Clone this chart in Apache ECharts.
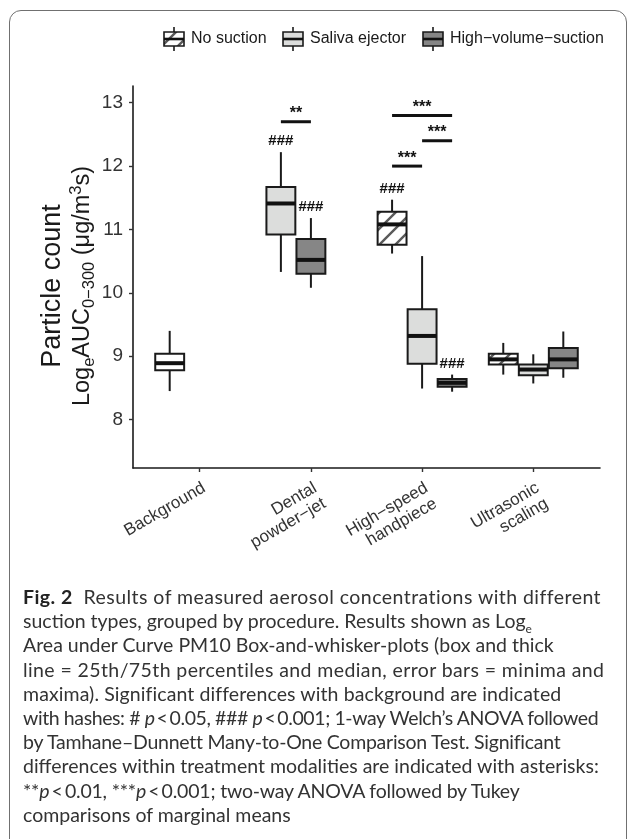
<!DOCTYPE html>
<html>
<head>
<meta charset="utf-8">
<script src="https://cdn.jsdelivr.net/npm/echarts@6/dist/echarts.min.js"></script>
<style>
  body { margin: 0; background: #fff; }
  #main { position: absolute; left: 0; top: 0; width: 630px; height: 575px; }
  .frame { position: absolute; left: 9px; top: 10px; width: 616px; height: 850px;
           border: 1.5px solid #707070; border-radius: 12px; pointer-events: none; }
  .caption { position: absolute; left: 23px; top: 585px; font-family: Lato, "Open Sans", sans-serif;
             font-size: 19.5px; color: #333; }
  .caption div { height: 24.2px; line-height: 24.2px; white-space: nowrap; }
  .caption b { color: #222; }
</style>
</head>
<body>
<div id="main"></div>
<div class="frame"></div>
<div class="caption">
  <div style="letter-spacing:0.45px"><b>Fig. 2</b>&nbsp; Results of measured aerosol concentrations with different</div>
  <div>suction types, grouped by procedure. Results shown as Log<sub style="font-size:12px">e</sub></div>
  <div>Area under Curve PM10 Box-and-whisker-plots (box and thick</div>
  <div style="letter-spacing:0.4px">line = 25th/75th percentiles and median, error bars = minima and</div>
  <div style="letter-spacing:0.1px">maxima). Significant differences with background are indicated</div>
  <div style="letter-spacing:-0.4px">with hashes: # <i>p</i>&thinsp;&lt;&thinsp;0.05, ### <i>p</i>&thinsp;&lt;&thinsp;0.001; 1-way Welch’s ANOVA followed</div>
  <div style="letter-spacing:-0.25px">by Tamhane–Dunnett Many-to-One Comparison Test. Significant</div>
  <div>differences within treatment modalities are indicated with asterisks:</div>
  <div style="letter-spacing:-0.2px">**<i>p</i>&thinsp;&lt;&thinsp;0.01, ***<i>p</i>&thinsp;&lt;&thinsp;0.001; two-way ANOVA followed by Tukey</div>
  <div>comparisons of marginal means</div>
</div>
<script>
// categories on the x axis
const categories = ['Background', 'Dental\npowder−jet', 'High−speed\nhandpiece', 'Ultrasonic\nscaling'];
const groupNames = ['No suction', 'Saliva ejector', 'High−volume−suction'];
const yTicks = [8, 9, 10, 11, 12, 13];

// [min, q1, median, q3, max] per category, null = no box
const background    = [[8.45, 8.78, 8.89, 9.04, 9.40], null, null, null];
const noSuction     = [null, null, [10.62, 10.76, 11.08, 11.28, 11.47], [8.71, 8.87, 8.95, 9.04, 9.21]];
const salivaEjector = [null, [10.33, 10.92, 11.41, 11.67, 12.22], [8.49, 8.88, 9.32, 9.74, 10.58], [8.57, 8.70, 8.79, 8.87, 9.03]];
const highVolume    = [null, [10.08, 10.30, 10.52, 10.85, 11.18], [8.44, 8.52, 8.58, 8.64, 8.71], [8.66, 8.81, 8.95, 9.13, 9.39]];

// hashes vs background
const noSuctionHash  = ['', '', '###', ''];
const salivaHash     = ['', '###', '', ''];
const highVolumeHash = ['', '###', '###', ''];

// significance bars: category, group from, group to (0 none,1 saliva,2 hvs), level, label
const sigCategory = [1, 2, 2, 2];
const sigFrom     = [1, 0, 1, 0];
const sigTo       = [2, 2, 2, 1];
const sigLevel    = [12.70, 12.80, 12.40, 12.00];
const sigLabel    = ['**', '***', '***', '***'];

const SLOT = 0.27, BOX_W = 0.26;
const allGroups = [background, noSuction, salivaEjector, highVolume];

// ggplot-like dodge: boxes present in a category are packed from the left slot
function slotX(cat, g) {
  const present = [];
  allGroups.forEach((arr, i) => { if (arr[cat]) present.push(i); });
  return cat + 1 + (present.indexOf(g) - 1) * SLOT;
}

function hatchCanvas(bg) {
  const n = 16;
  const c = document.createElement('canvas');
  c.width = c.height = n;
  const g = c.getContext('2d');
  g.fillStyle = bg; g.fillRect(0, 0, n, n);
  g.strokeStyle = '#5a5a5a'; g.lineWidth = 2.4;
  g.beginPath();
  g.moveTo(-2, n + 2); g.lineTo(n + 2, -2);
  g.moveTo(-2, 2); g.lineTo(2, -2);
  g.moveTo(n - 2, n + 2); g.lineTo(n + 2, n - 2);
  g.stroke();
  return c;
}
const hatch = { image: hatchCanvas('#ffffff'), repeat: 'repeat' };
const fills = ['#ffffff', hatch, '#dcdddc', '#868686'];
const hashes = [['', '', '', ''], noSuctionHash, salivaHash, highVolumeHash];

function boxSeries(name, g) {
  const data = [];
  allGroups[g].forEach((s, c) => { if (s) data.push([slotX(c, g)].concat(s, [c])); });
  return {
    type: 'custom', name: name, data: data,
    encode: { x: 0, y: [1, 2, 3, 4, 5] },
    renderItem: function (params, api) {
      const x = api.value(0);
      const pMin = api.coord([x, api.value(1)]);
      const pQ1 = api.coord([x, api.value(2)]);
      const pMed = api.coord([x, api.value(3)]);
      const pQ3 = api.coord([x, api.value(4)]);
      const pMax = api.coord([x, api.value(5)]);
      const half = api.size([BOX_W, 0])[0] / 2;
      const cx = pMed[0];
      const line = { stroke: '#1a1a1a', lineWidth: 2 };
      const children = [
        { type: 'line', shape: { x1: cx, y1: pMax[1], x2: cx, y2: pQ3[1] }, style: line },
        { type: 'line', shape: { x1: cx, y1: pQ1[1], x2: cx, y2: pMin[1] }, style: line },
        { type: 'rect', shape: { x: cx - half, y: pQ3[1], width: half * 2, height: pQ1[1] - pQ3[1] },
          style: { fill: fills[g], stroke: '#1a1a1a', lineWidth: 2 } },
        { type: 'line', shape: { x1: cx - half, y1: pMed[1], x2: cx + half, y2: pMed[1] },
          style: { stroke: '#111', lineWidth: 4 } }
      ];
      const h = hashes[g][api.value(6)];
      if (h) {
        children.push({ type: 'text', x: cx, y: pMax[1] - 11,
          style: { text: h, font: 'bold 15px "Liberation Sans"', fill: '#111', align: 'center', verticalAlign: 'middle' } });
      }
      return { type: 'group', children: children };
    },
    z: 2
  };
}

const sigData = sigCategory.map((c, i) => [slotX(c, sigFrom[i] + 1), slotX(c, sigTo[i] + 1), sigLevel[i], i]);

const chart = echarts.init(document.getElementById('main'));

// legend keys drawn like ggplot boxplot keys
const legendX = [164, 283, 423];
const legendItems = [];
groupNames.forEach((n, i) => {
  const x0 = legendX[i], yc = 39;
  legendItems.push(
    { type: 'line', shape: { x1: x0 + 10, y1: yc - 12, x2: x0 + 10, y2: yc + 12 }, style: { stroke: '#1a1a1a', lineWidth: 1.6 } },
    { type: 'rect', shape: { x: x0, y: yc - 7, width: 20, height: 14 }, style: { fill: fills[i + 1], stroke: '#1a1a1a', lineWidth: 1.6 } },
    { type: 'line', shape: { x1: x0, y1: yc, x2: x0 + 20, y2: yc }, style: { stroke: '#111', lineWidth: 2.6 } },
    { type: 'text', x: x0 + 27, y: yc, style: { text: n, font: '16px "Liberation Sans"', fill: '#1a1a1a', align: 'left', verticalAlign: 'middle' } }
  );
});

chart.setOption({
  animation: false,
  grid: { left: 133, right: 30, top: 86, bottom: 107 },
  xAxis: {
    type: 'value', min: 0.4, max: 4.6,
    splitLine: { show: false },
    axisLine: { lineStyle: { color: '#1a1a1a', width: 1.6 } },
    axisTick: { customValues: [1, 2, 3, 4], length: 4, lineStyle: { color: '#333', width: 1.4 } },
    axisLabel: {
      customValues: [1, 2, 3, 4], rotate: 30, margin: 11,
      align: 'right', verticalAlign: 'top',
      fontFamily: 'Liberation Sans', fontSize: 17, color: '#333', lineHeight: 18,
      formatter: v => categories[Math.round(v) - 1]
    }
  },
  yAxis: {
    type: 'value', min: 7.236, max: 13.264,
    splitLine: { show: false },
    axisLine: { show: true, lineStyle: { color: '#1a1a1a', width: 1.6 } },
    axisTick: { show: true, customValues: yTicks, length: 4, lineStyle: { color: '#333', width: 1.4 } },
    axisLabel: { customValues: yTicks, margin: 10, fontFamily: 'Liberation Sans', fontSize: 19, color: '#333' }
  },
  graphic: legendItems.concat([
    { type: 'text', x: 53, y: 286, rotation: Math.PI / 2,
      style: { text: 'Particle count', font: '27px "Liberation Sans"', fill: '#1a1a1a', align: 'center', verticalAlign: 'middle' } },
    { type: 'text', x: 83, y: 286, rotation: Math.PI / 2,
      style: {
        text: '{n|Log}{sub|e}{n|AUC}{sub|0−300}{n| (μg/m}{sup|3}{n|s)}',
        align: 'center', verticalAlign: 'middle',
        rich: {
          n: { fontFamily: 'Liberation Sans', fontSize: 23.5, lineHeight: 30, verticalAlign: 'middle', fill: '#1a1a1a' },
          sub: { fontFamily: 'Liberation Sans', fontSize: 16.5, lineHeight: 16, verticalAlign: 'bottom', fill: '#1a1a1a' },
          sup: { fontFamily: 'Liberation Sans', fontSize: 16.5, lineHeight: 16, verticalAlign: 'top', fill: '#1a1a1a' }
        }
      } }
  ]),
  series: [
    boxSeries('Background', 0),
    boxSeries(groupNames[0], 1),
    boxSeries(groupNames[1], 2),
    boxSeries(groupNames[2], 3),
    {
      type: 'custom', name: 'significance', data: sigData,
      encode: { x: [0, 1], y: 2 },
      renderItem: function (params, api) {
        const a = api.coord([api.value(0), api.value(2)]);
        const b = api.coord([api.value(1), api.value(2)]);
        return { type: 'group', children: [
          { type: 'line', shape: { x1: a[0], y1: a[1], x2: b[0], y2: b[1] }, style: { stroke: '#111', lineWidth: 3 } },
          { type: 'text', x: (a[0] + b[0]) / 2, y: a[1] - 8,
            style: { text: sigLabel[api.value(3)], font: 'bold 16px "Liberation Sans"', fill: '#111', align: 'center', verticalAlign: 'middle' } }
        ] };
      }
    }
  ]
});
</script>
</body>
</html>
